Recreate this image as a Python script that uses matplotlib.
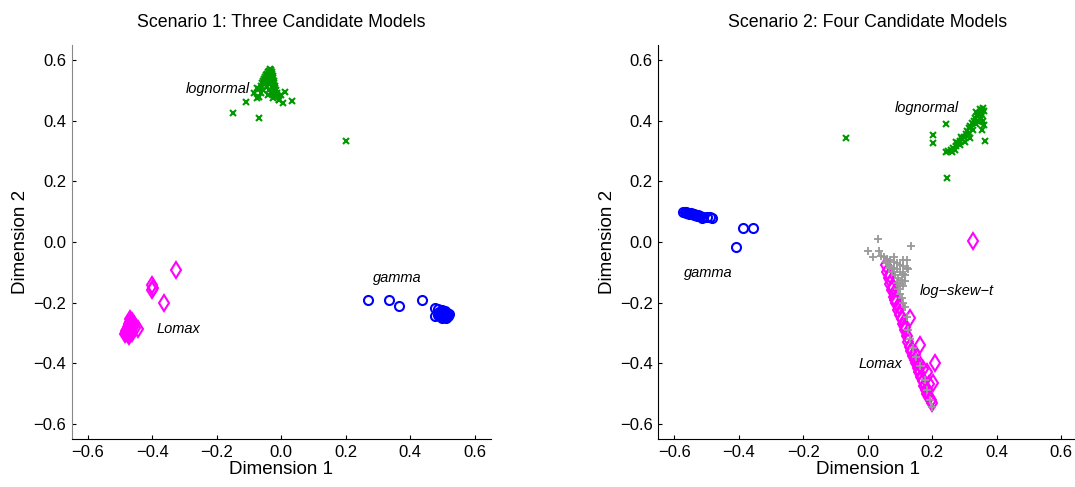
import matplotlib
matplotlib.use("Agg")
import matplotlib.pyplot as plt
import numpy as np

plt.rcParams['font.family'] = ['Liberation Sans', 'DejaVu Sans']

# ---- Scenario 1: three candidate models ----
s1_logn = [(-0.068, 0.505), (-0.064, 0.515), (-0.060, 0.525), (-0.057, 0.530), (-0.054, 0.538),
           (-0.050, 0.545), (-0.047, 0.550), (-0.044, 0.555), (-0.041, 0.560), (-0.038, 0.565),
           (-0.035, 0.570), (-0.032, 0.568), (-0.030, 0.562), (-0.028, 0.555), (-0.026, 0.548),
           (-0.025, 0.540), (-0.023, 0.532), (-0.022, 0.524), (-0.020, 0.515), (-0.018, 0.507),
           (-0.016, 0.500), (-0.014, 0.492), (-0.012, 0.485), (-0.010, 0.478), (-0.008, 0.470),
           (-0.045, 0.535), (-0.040, 0.545), (-0.035, 0.550), (-0.040, 0.525), (-0.035, 0.535),
           (-0.030, 0.545), (-0.050, 0.520), (-0.045, 0.510), (-0.038, 0.500), (-0.030, 0.510),
           (-0.030, 0.530), (-0.025, 0.500), (-0.033, 0.490), (-0.040, 0.485), (-0.055, 0.500),
           (-0.062, 0.490), (-0.070, 0.480), (-0.020, 0.490), (-0.027, 0.475),
           (-0.151, 0.425), (-0.108, 0.462), (-0.076, 0.475), (-0.076, 0.508), (-0.070, 0.410),
           (0.013, 0.495), (0.032, 0.465), (0.007, 0.458), (-0.008, 0.468), (0.202, 0.333),
           (0.000, 0.485), (-0.085, 0.490)]
s1_gamma = [(0.270, -0.190), (0.333, -0.192), (0.366, -0.210), (0.437, -0.190), (0.478, -0.218),
            (0.478, -0.245), (0.490, -0.230), (0.495, -0.235), (0.500, -0.240), (0.505, -0.245),
            (0.510, -0.240), (0.515, -0.235), (0.508, -0.228), (0.500, -0.225), (0.492, -0.245),
            (0.498, -0.250), (0.512, -0.248), (0.518, -0.243), (0.503, -0.232), (0.507, -0.238),
            (0.485, -0.222), (0.520, -0.238), (0.495, -0.242), (0.510, -0.252), (0.487, -0.240)]
s1_lomax = [(-0.325, -0.093), (-0.402, -0.142), (-0.398, -0.152), (-0.400, -0.158), (-0.365, -0.200),
            (-0.443, -0.287), (-0.470, -0.255), (-0.468, -0.265), (-0.472, -0.270), (-0.465, -0.275),
            (-0.475, -0.280), (-0.470, -0.285), (-0.478, -0.290), (-0.473, -0.295), (-0.480, -0.300),
            (-0.476, -0.305), (-0.465, -0.290), (-0.460, -0.280), (-0.458, -0.270), (-0.462, -0.262),
            (-0.482, -0.295), (-0.485, -0.305), (-0.468, -0.298), (-0.455, -0.285), (-0.463, -0.300),
            (-0.471, -0.310)]

# ---- Scenario 2: four candidate models ----
s2_logn = [(0.241, 0.297), (0.250, 0.300), (0.258, 0.305), (0.265, 0.310), (0.272, 0.318),
           (0.280, 0.325), (0.287, 0.333), (0.293, 0.340), (0.298, 0.348), (0.303, 0.356),
           (0.308, 0.365), (0.313, 0.375), (0.318, 0.383), (0.323, 0.392), (0.328, 0.400),
           (0.333, 0.408), (0.338, 0.416), (0.343, 0.423), (0.348, 0.430), (0.353, 0.436),
           (0.357, 0.441), (0.360, 0.432), (0.355, 0.420), (0.350, 0.410), (0.358, 0.400),
           (0.360, 0.385), (0.345, 0.395), (0.335, 0.390), (0.325, 0.370), (0.315, 0.360),
           (0.300, 0.330), (0.285, 0.320), (0.270, 0.305), (0.260, 0.298), (0.352, 0.428),
           (0.340, 0.400), (0.320, 0.380), (0.310, 0.350), (0.290, 0.345), (0.275, 0.330),
           (0.335, 0.430), (0.347, 0.440),
           (-0.067, 0.343), (0.203, 0.353), (0.203, 0.326), (0.241, 0.389), (0.247, 0.211),
           (0.362, 0.333), (0.318, 0.343), (0.355, 0.370)]
s2_gamma = [(-0.573, 0.100), (-0.568, 0.100), (-0.563, 0.098), (-0.558, 0.097), (-0.553, 0.096),
            (-0.548, 0.095), (-0.543, 0.094), (-0.538, 0.093), (-0.533, 0.090), (-0.527, 0.088),
            (-0.520, 0.086), (-0.510, 0.084), (-0.500, 0.082), (-0.490, 0.083), (-0.485, 0.079),
            (-0.565, 0.095), (-0.555, 0.092), (-0.540, 0.088), (-0.530, 0.085), (-0.515, 0.080),
            (-0.408, -0.017), (-0.387, 0.046), (-0.356, 0.046)]
s2_lomax = [(0.055, -0.075), (0.060, -0.100), (0.065, -0.120), (0.070, -0.140), (0.075, -0.160),
            (0.080, -0.180), (0.085, -0.190), (0.095, -0.225), (0.100, -0.240), (0.105, -0.255),
            (0.110, -0.270), (0.115, -0.280), (0.132, -0.250), (0.116, -0.290), (0.120, -0.310),
            (0.125, -0.330), (0.130, -0.345), (0.135, -0.360), (0.140, -0.375), (0.145, -0.390),
            (0.150, -0.400), (0.155, -0.415), (0.160, -0.430), (0.163, -0.340), (0.165, -0.445),
            (0.170, -0.460), (0.175, -0.475), (0.180, -0.490), (0.185, -0.500), (0.190, -0.510),
            (0.195, -0.520), (0.200, -0.530), (0.209, -0.400), (0.203, -0.465), (0.185, -0.430),
            (0.145, -0.370), (0.170, -0.420), (0.190, -0.470), (0.160, -0.400), (0.325, 0.003),
            (0.070, -0.110), (0.078, -0.150), (0.088, -0.200), (0.098, -0.210)]
s2_lst = [(0.033, 0.010), (0.001, -0.030), (0.035, -0.030), (0.135, -0.014), (0.017, -0.050),
          (0.110, -0.060), (0.040, -0.045), (0.050, -0.050), (0.060, -0.055), (0.070, -0.060),
          (0.080, -0.065), (0.090, -0.070), (0.100, -0.075), (0.110, -0.080), (0.120, -0.085),
          (0.060, -0.070), (0.070, -0.080), (0.080, -0.085), (0.090, -0.090), (0.100, -0.100),
          (0.110, -0.105), (0.075, -0.100), (0.085, -0.110), (0.095, -0.120), (0.105, -0.125),
          (0.115, -0.110), (0.090, -0.135), (0.100, -0.140), (0.110, -0.145), (0.095, -0.155),
          (0.100, -0.170), (0.105, -0.185), (0.110, -0.200), (0.115, -0.215), (0.122, -0.247),
          (0.125, -0.290), (0.130, -0.320), (0.140, -0.350), (0.150, -0.380), (0.163, -0.410),
          (0.178, -0.455), (0.185, -0.490), (0.192, -0.520), (0.200, -0.544), (0.120, -0.060),
          (0.125, -0.090), (0.115, -0.130), (0.080, -0.050), (0.065, -0.085), (0.055, -0.065)]

titles = ["Scenario 1: Three Candidate Models", "Scenario 2: Four Candidate Models"]
ticks = [-0.6, -0.4, -0.2, 0.0, 0.2, 0.4, 0.6]

GREEN = '#009900'
BLUE = '#0000ff'
MAGENTA = '#ff00ff'
GRAY = '#999999'


def pts(ax, data, marker, color, ms, mew):
    a = np.array(data)
    ax.plot(a[:, 0], a[:, 1], linestyle='none', marker=marker, markersize=ms,
            markerfacecolor='none', markeredgecolor=color, markeredgewidth=mew)


fig = plt.figure(figsize=(10.75, 4.87), dpi=100)
ax1 = fig.add_axes([0.0667, 0.0986, 0.3898, 0.809])
ax2 = fig.add_axes([0.6124, 0.0986, 0.3898, 0.809])

pts(ax1, s1_logn, 'x', GREEN, 4.5, 1.5)
pts(ax1, s1_gamma, 'o', BLUE, 6.5, 1.5)
pts(ax1, s1_lomax, 'd', MAGENTA, 8, 1.5)

pts(ax2, s2_logn, 'x', GREEN, 4.5, 1.5)
pts(ax2, s2_gamma, 'o', BLUE, 6.5, 1.5)
pts(ax2, s2_lomax, 'd', MAGENTA, 8, 1.5)
pts(ax2, s2_lst, '+', GRAY, 6, 1.3)

lab = dict(fontsize=10.5, style='italic', ha='center', va='center')
ax1.text(-0.198, 0.504, "lognormal", **lab)
ax1.text(0.36, -0.119, "gamma", **lab)
ax1.text(-0.318, -0.287, "Lomax", **lab)
ax2.text(0.182, 0.442, "lognormal", **lab)
ax2.text(-0.495, -0.102, "gamma", **lab)
ax2.text(0.275, -0.162, "log\u2212skew\u2212t", **lab)
ax2.text(0.039, -0.402, "Lomax", **lab)

for ax, t in zip([ax1, ax2], titles):
    ax.set_xlim(-0.65, 0.65)
    ax.set_ylim(-0.65, 0.65)
    ax.set_xticks(ticks)
    ax.set_yticks(ticks)
    ax.tick_params(direction='in', length=3, labelsize=12, pad=4)
    ax.spines['top'].set_visible(False)
    ax.spines['right'].set_visible(False)
    ax.set_xlabel("Dimension 1", fontsize=13.5, labelpad=1)
    ax.set_ylabel("Dimension 2", fontsize=13.5, labelpad=3)
    ax.set_title(t, fontsize=12.8, pad=13)

ax1.spines['left'].set_color('#888888')

fig.savefig("out.png", dpi=100)
